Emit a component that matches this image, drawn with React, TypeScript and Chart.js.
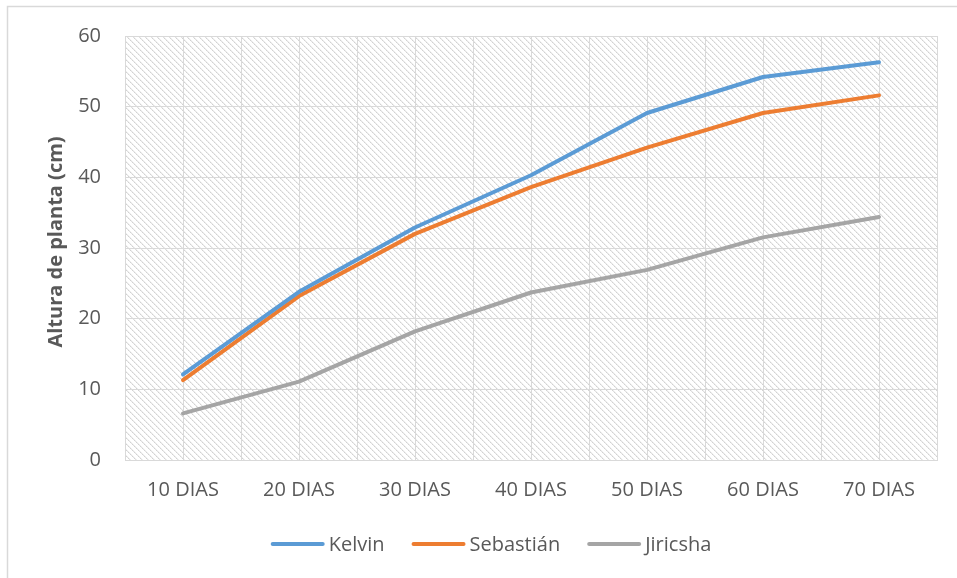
import React, { useEffect, useRef } from "react";
import { Chart, registerables } from "chart.js";

Chart.register(...registerables);

const categories = ["10 DIAS", "20 DIAS", "30 DIAS", "40 DIAS", "50 DIAS", "60 DIAS", "70 DIAS"];
const kelvin = [12.1, 23.8, 32.9, 40.3, 49.1, 54.2, 56.3];
const sebastian = [11.3, 23.2, 32.0, 38.6, 44.2, 49.1, 51.6];
const jiricsha = [6.6, 11.1, 18.2, 23.7, 26.9, 31.5, 34.4];
const seriesNames = ["Kelvin", "Sebastián", "Jiricsha"];
const seriesColors = ["#5B9BD5", "#ED7D31", "#A5A5A5"];
const yTitle = "Altura de planta (cm)";
const yMin = 0;
const yMax = 60;
const yStep = 10;

const FONT = "'Open Sans', 'Noto Sans', sans-serif";
const TEXT = "#595959";
const GRID = "#d9d9d9";

function makePattern(ctx: CanvasRenderingContext2D): CanvasPattern | string {
  const tile = document.createElement("canvas");
  const n = 6;
  tile.width = n;
  tile.height = n;
  const t = tile.getContext("2d");
  if (!t) return "#f0f0f0";
  t.fillStyle = "#ffffff";
  t.fillRect(0, 0, n, n);
  for (let i = 0; i < n; i++) {
    t.fillStyle = i % 2 === 0 ? "#d2d2d2" : "#e0e0e0";
    t.fillRect(i, i, 1, 1);
    t.fillStyle = "#efefef";
    t.fillRect((i + 1) % n, i, 1, 1);
  }
  return ctx.createPattern(tile, "repeat") || "#f0f0f0";
}

export default function App() {
  const ref = useRef<HTMLCanvasElement | null>(null);

  useEffect(() => {
    const canvas = ref.current;
    if (!canvas) return;
    const ctx0 = canvas.getContext("2d");
    if (!ctx0) return;
    const pattern = makePattern(ctx0);

    const bgPlugin = {
      id: "bgPattern",
      beforeDraw(chart: any) {
        const { ctx, chartArea } = chart;
        ctx.save();
        ctx.fillStyle = "#ffffff";
        ctx.fillRect(0, 0, chart.width, chart.height);
        ctx.fillStyle = pattern;
        ctx.fillRect(chartArea.left, chartArea.top, chartArea.right - chartArea.left, chartArea.bottom - chartArea.top);
        // outer chart border
        ctx.strokeStyle = GRID;
        ctx.lineWidth = 1.5;
        ctx.beginPath();
        ctx.moveTo(7.5, chart.height + 2);
        ctx.lineTo(7.5, 6.5);
        ctx.lineTo(chart.width + 2, 6.5);
        ctx.stroke();
        ctx.restore();
      },
      beforeDatasetsDraw(chart: any) {
        const { ctx, chartArea } = chart;
        const xs = chart.scales.x;
        ctx.save();
        ctx.strokeStyle = GRID;
        ctx.lineWidth = 1;
        for (let i = 0; i < categories.length; i++) {
          const x = Math.round(xs.getPixelForValue(i)) + 0.5;
          ctx.beginPath();
          ctx.moveTo(x, chartArea.top);
          ctx.lineTo(x, chartArea.bottom);
          ctx.stroke();
        }
        ctx.restore();
      },
    };

    const textPlugin = {
      id: "customText",
      afterDraw(chart: any) {
        const { ctx } = chart;
        ctx.save();
        // y axis title
        ctx.translate(56, 242);
        ctx.rotate(-Math.PI / 2);
        ctx.font = `bold 20px ${FONT}`;
        ctx.fillStyle = TEXT;
        ctx.textAlign = "center";
        ctx.textBaseline = "middle";
        ctx.fillText(yTitle, 0, 0);
        ctx.restore();

        // legend
        ctx.save();
        ctx.font = `20px ${FONT}`;
        const lineLen = 54;
        const gap = 4;
        const spacing = 27;
        const widths = chart.data.datasets.map((d: any) => ctx.measureText(d.label).width);
        let total = 0;
        widths.forEach((w: number) => (total += lineLen + gap + w));
        total += spacing * (widths.length - 1);
        let x = 491 - total / 2;
        const y = 544;
        chart.data.datasets.forEach((d: any, i: number) => {
          ctx.strokeStyle = d.borderColor;
          ctx.lineWidth = 4;
          ctx.lineCap = "round";
          ctx.beginPath();
          ctx.moveTo(x + 2, y);
          ctx.lineTo(x + lineLen - 2, y);
          ctx.stroke();
          ctx.fillStyle = TEXT;
          ctx.textBaseline = "middle";
          ctx.textAlign = "left";
          ctx.fillText(d.label, x + lineLen + gap, y + 1);
          x += lineLen + gap + widths[i] + spacing;
        });
        ctx.restore();
      },
    };

    const seriesData = [kelvin, sebastian, jiricsha];

    const chart = new Chart(canvas, {
      type: "line",
      data: {
        labels: categories,
        datasets: seriesData.map((vals, i) => ({
          label: seriesNames[i],
          data: vals,
          borderColor: seriesColors[i],
          backgroundColor: seriesColors[i],
          borderWidth: 4,
          borderCapStyle: "round" as const,
          borderJoinStyle: "round" as const,
          pointRadius: 0,
          pointHoverRadius: 0,
          tension: 0,
          fill: false,
        })),
      },
      options: {
        animation: false,
        responsive: false,
        maintainAspectRatio: false,
        events: [],
        layout: { padding: { left: 40, right: 20, top: 36, bottom: 68 } },
        plugins: {
          legend: { display: false },
          tooltip: { enabled: false },
          title: { display: false },
        },
        scales: {
          x: {
            type: "category",
            offset: true,
            grid: { offset: true, color: GRID, drawTicks: false, lineWidth: 1 },
            border: { color: GRID, width: 1 },
            ticks: { color: TEXT, font: { family: FONT, size: 20 }, padding: 18, maxRotation: 0 },
            afterFit: (s: any) => {
              s.height = 50;
            },
          },
          y: {
            type: "linear",
            min: yMin,
            max: yMax,
            grid: { color: GRID, drawTicks: false, lineWidth: 1 },
            border: { display: true, color: GRID, width: 1 },
            ticks: { stepSize: yStep, color: TEXT, font: { family: FONT, size: 20 }, padding: 24 },
            afterFit: (s: any) => {
              s.width = 85;
            },
          },
        },
      },
      plugins: [bgPlugin, textPlugin],
    });

    return () => {
      chart.destroy();
    };
  }, []);

  return (
    <div style={{ position: "fixed", left: 0, top: 0, width: 957, height: 578, background: "#fff" }}>
      <canvas ref={ref} width={957} height={578} style={{ width: 957, height: 578, display: "block" }} />
    </div>
  );
}
